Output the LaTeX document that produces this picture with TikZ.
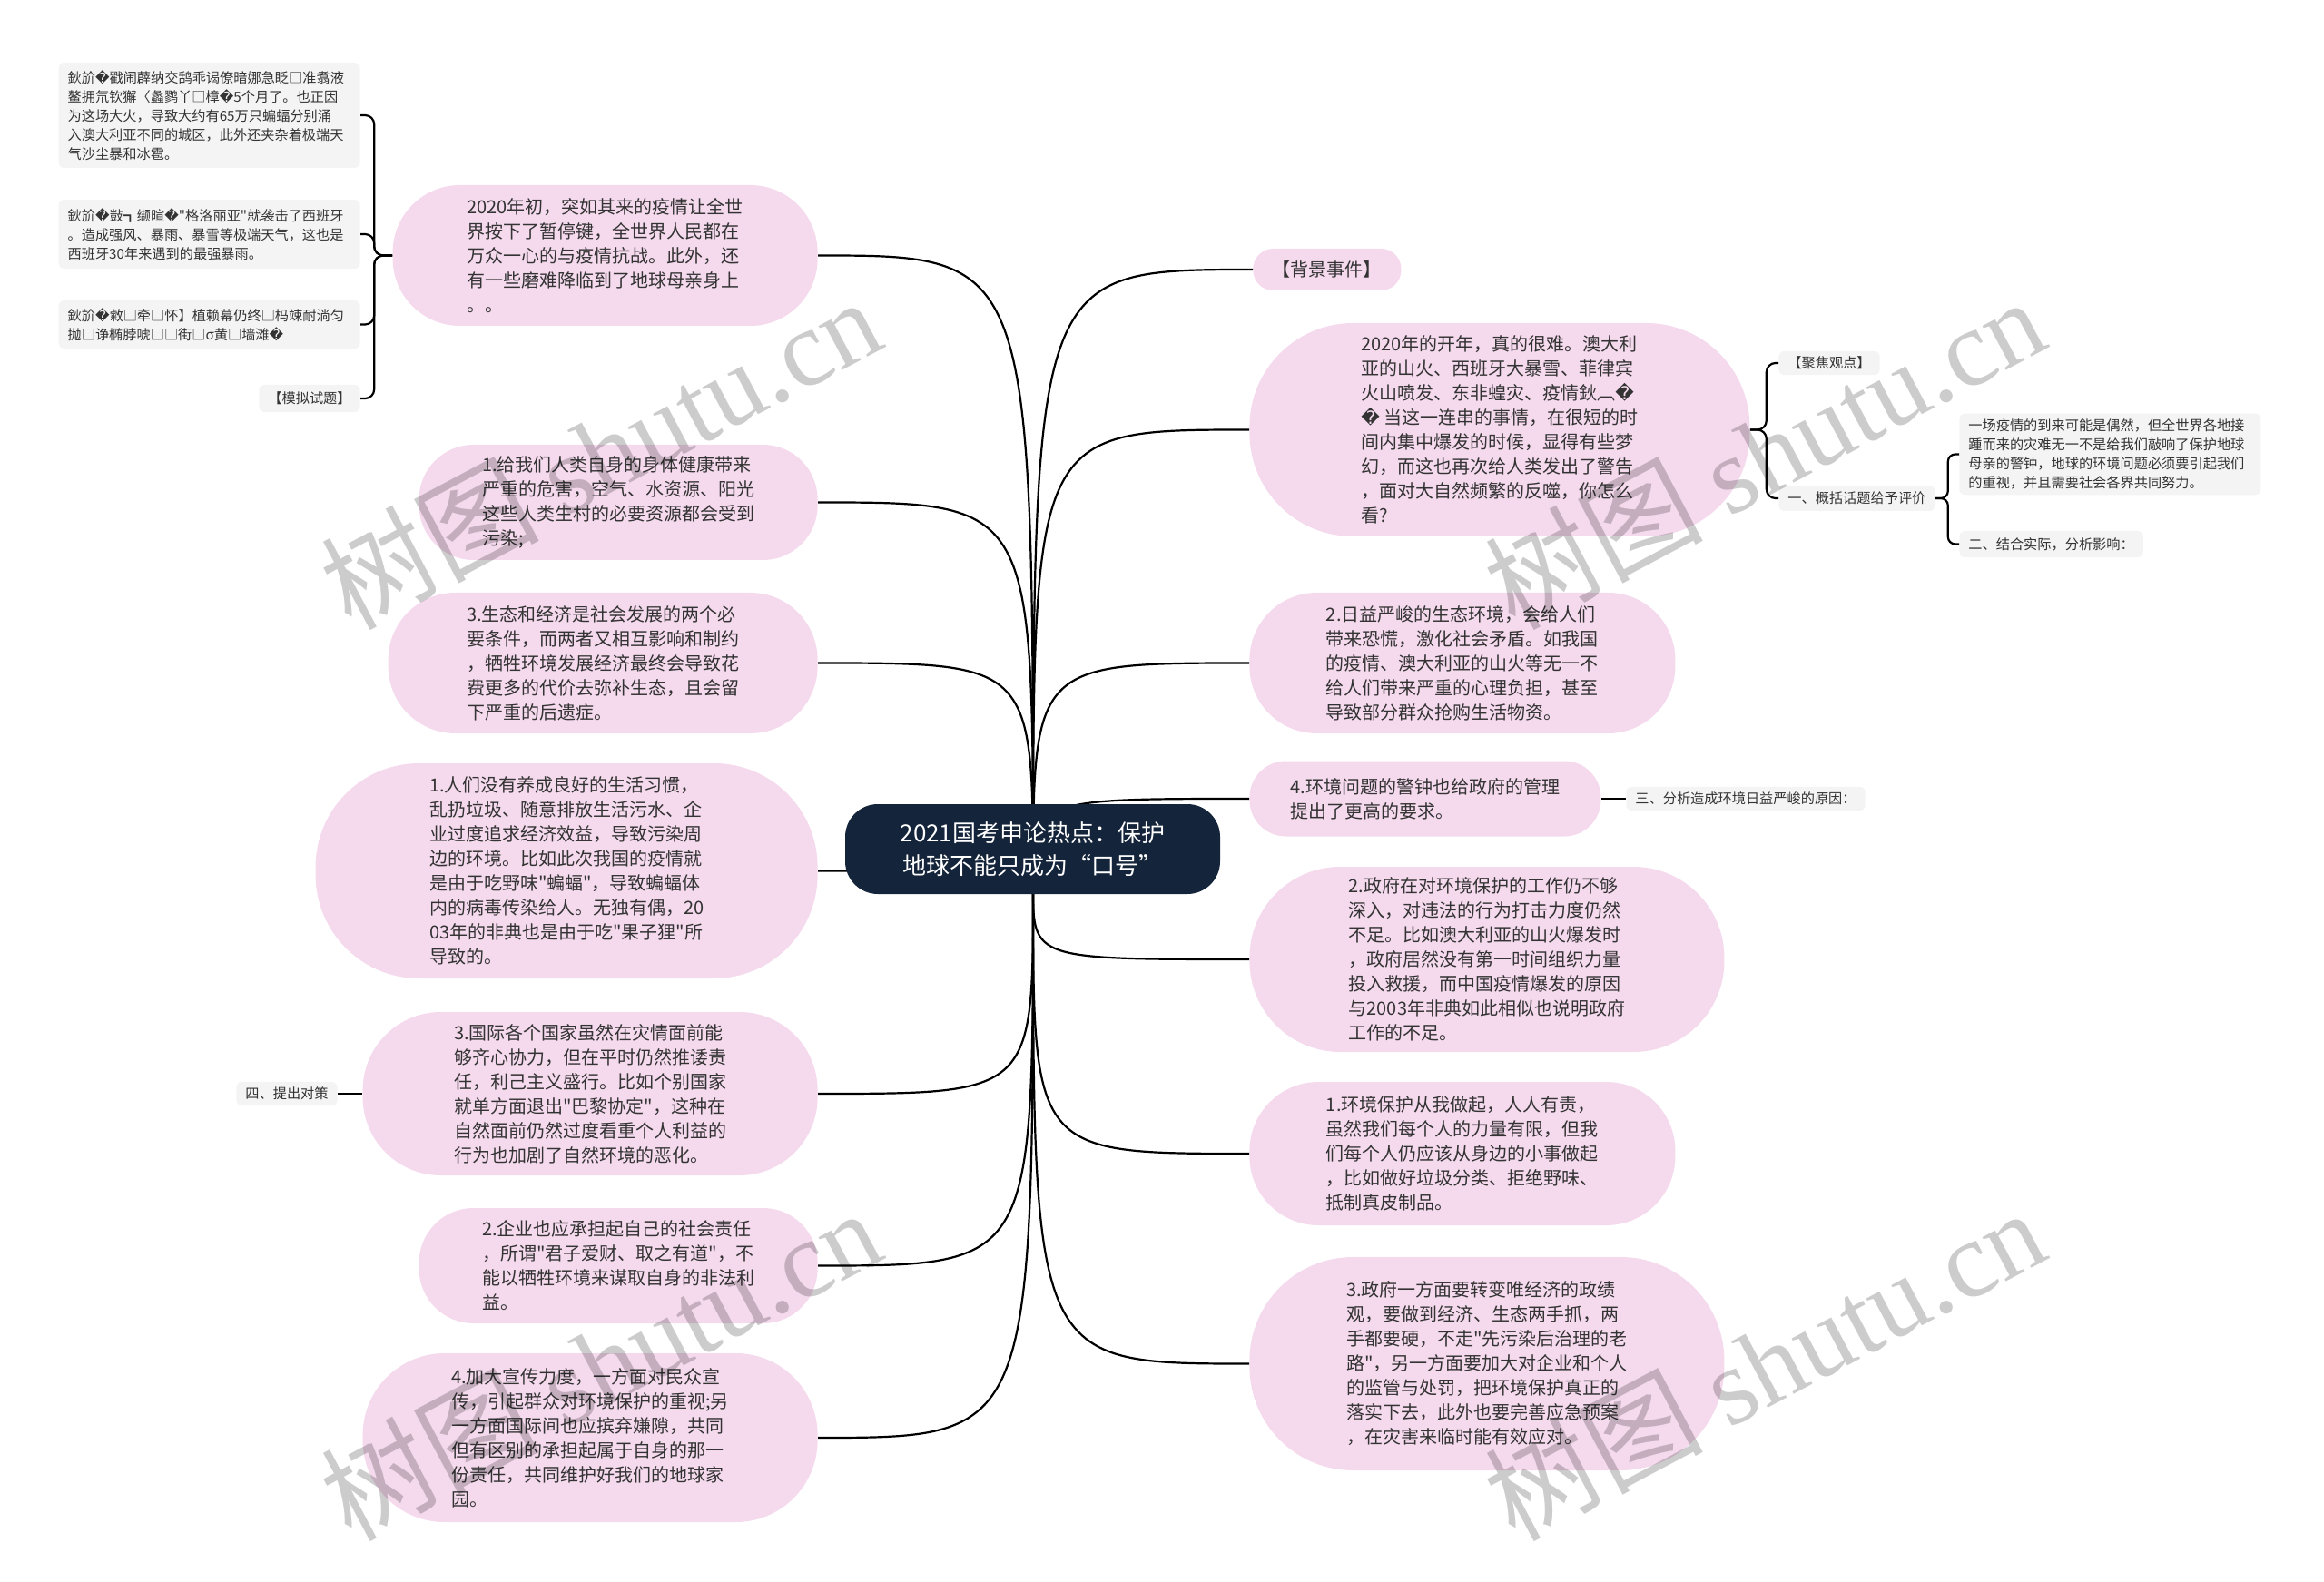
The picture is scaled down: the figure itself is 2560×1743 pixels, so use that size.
\documentclass[tikz,border=0pt]{standalone}
\usepackage{fontspec}
\setmainfont{Noto Sans CJK SC}
\newfontfamily\replfont{DejaVu Sans}
\newfontfamily\wmfont{Liberation Serif}
\font\quotefont="Noto Sans CJK SC" at 10pt
\font\smallquotefont="Noto Sans CJK SC" at 7.6pt
\newcommand{\bad}{{\replfont\char"FFFD}}
\newcommand{\dq}{{\quotefont"}}
\newcommand{\sdq}{{\smallquotefont"}}
\definecolor{pinkfill}{HTML}{F5DAEE}
\definecolor{greyfill}{HTML}{F4F4F4}
\definecolor{topicfill}{HTML}{14243A}
\definecolor{textgray}{HTML}{333333}
\begin{document}
\begin{tikzpicture}[
            x=0.5pt,
            y=-0.5pt,
            link/.style={line width=1.1pt, black},
            pinkbox/.style={fill=pinkfill, text=textgray, rounded corners=#1, align=left, inner sep=3pt, font=\fontsize{10}{13.5}\selectfont},
            greybox/.style={fill=greyfill, text=textgray, rounded corners=3pt, align=left, inner xsep=5pt, inner ysep=3pt, font=\fontsize{7.6}{10.5}\selectfont},
            topic/.style={fill=topicfill, text=white, rounded corners=18pt, align=center, minimum width=206.5pt, minimum height=49.5pt, font=\fontsize{13}{18}\selectfont},
            stamp/.style={text=black, opacity=0.2, rotate=28, font=\fontsize{60}{60}\selectfont}
        ]
        \useasboundingbox (0,0) rectangle (2560,1743);
        \coordinate (hub) at (1138,978);

        \node[pinkbox=37pt, minimum width=234pt, minimum height=77.5pt, anchor=east] (L1) at (901,281.5) {2020年初，突如其来的疫情让全世\\界按下了暂停键，全世界人民都在\\万众一心的与疫情抗战。此外，还\\有一些磨难降临到了地球母亲身上\\。。};
        \node[pinkbox=30pt, minimum width=219.5pt, minimum height=63.5pt, anchor=east] (L2) at (901,553.5) {1.给我们人类自身的身体健康带来\\严重的危害，空气、水资源、阳光\\这些人类生村的必要资源都会受到\\污染;};
        \node[pinkbox=37pt, minimum width=236.5pt, minimum height=77.5pt, anchor=east] (L3) at (901,730.5) {3.生态和经济是社会发展的两个必\\要条件，而两者又相互影响和制约\\，牺牲环境发展经济最终会导致花\\费更多的代价去弥补生态，且会留\\下严重的后遗症。};
        \node[pinkbox=57pt, minimum width=276.5pt, minimum height=118.5pt, anchor=east] (L4) at (901,959.5) {1.人们没有养成良好的生活习惯，\\乱扔垃圾、随意排放生活污水、企\\业过度追求经济效益，导致污染周\\边的环境。比如此次我国的疫情就\\是由于吃野味\dq 蝙蝠\dq ，导致蝙蝠体\\内的病毒传染给人。无独有偶，20\\03年的非典也是由于吃\dq 果子狸\dq 所\\导致的。};
        \node[pinkbox=43pt, minimum width=250.5pt, minimum height=90pt, anchor=east] (L5) at (901,1205) {3.国际各个国家虽然在灾情面前能\\够齐心协力，但在平时仍然推诿责\\任，利己主义盛行。比如个别国家\\就单方面退出\dq 巴黎协定\dq ，这种在\\自然面前仍然过度看重个人利益的\\行为也加剧了自然环境的恶化。};
        \node[pinkbox=30pt, minimum width=219.5pt, minimum height=63.5pt, anchor=east] (L6) at (901,1394.5) {2.企业也应承担起自己的社会责任\\，所谓\dq 君子爱财、取之有道\dq ，不\\能以牺牲环境来谋取自身的非法利\\益。};
        \node[pinkbox=45pt, minimum width=250.5pt, minimum height=93pt, anchor=east] (L7) at (901,1584) {4.加大宣传力度，一方面对民众宣\\传，引起群众对环境保护的重视;另\\一方面国际间也应摈弃嫌隙，共同\\但有区别的承担起属于自身的那一\\份责任，共同维护好我们的地球家\\园。};

        \node[pinkbox=11pt, minimum width=81.5pt, minimum height=23pt, anchor=west] (R0) at (1380,297) {【背景事件】};
        \node[pinkbox=57pt, minimum width=275.5pt, minimum height=117.5pt, anchor=west] (R1) at (1376,473.5) {2020年的开年，真的很难。澳大利\\亚的山火、西班牙大暴雪、菲律宾\\火山喷发、东非蝗灾、疫情鈥︹\bad\\\bad{} 当这一连串的事情，在很短的时\\间内集中爆发的时候，显得有些梦\\幻，而这也再次给人类发出了警告\\，面对大自然频繁的反噬，你怎么\\看?};
        \node[pinkbox=37pt, minimum width=234.5pt, minimum height=77.5pt, anchor=west] (R2) at (1376,730.5) {2.日益严峻的生态环境，会给人们\\带来恐慌，激化社会矛盾。如我国\\的疫情、澳大利亚的山火等无一不\\给人们带来严重的心理负担，甚至\\导致部分群众抢购生活物资。};
        \node[pinkbox=20pt, minimum width=193.5pt, minimum height=41.5pt, anchor=west] (R3) at (1376,880) {4.环境问题的警钟也给政府的管理\\提出了更高的要求。};
        \node[pinkbox=50pt, minimum width=261.5pt, minimum height=102pt, anchor=west] (R4) at (1376,1057) {2.政府在对环境保护的工作仍不够\\深入，对违法的行为打击力度仍然\\不足。比如澳大利亚的山火爆发时\\，政府居然没有第一时间组织力量\\投入救援，而中国疫情爆发的原因\\与2003年非典如此相似也说明政府\\工作的不足。};
        \node[pinkbox=38pt, minimum width=234.5pt, minimum height=79pt, anchor=west] (R5) at (1376,1271) {1.环境保护从我做起，人人有责，\\虽然我们每个人的力量有限，但我\\们每个人仍应该从身边的小事做起\\，比如做好垃圾分类、拒绝野味、\\抵制真皮制品。};
        \node[pinkbox=57pt, minimum width=261.5pt, minimum height=117.5pt, anchor=west] (R6) at (1376,1502.5) {3.政府一方面要转变唯经济的政绩\\观，要做到经济、生态两手抓，两\\手都要硬，不走\dq 先污染后治理的老\\路\dq ，另一方面要加大对企业和个人\\的监管与处罚，把环境保护真正的\\落实下去，此外也要完善应急预案\\，在灾害来临时能有效应对。};

        \node[greybox, text width=156pt, minimum height=58pt, anchor=east] (G1) at (397,127) {鈥斺\bad 戳闹薜纳交鸹乖谒僚暗娜急眨□准翥液\\鳌拥氘钦獬〈蠡鹨丫□樟\bad 5个月了。也正因\\为这场大火，导致大约有65万只蝙蝠分别涌\\入澳大利亚不同的城区，此外还夹杂着极端天\\气沙尘暴和冰雹。};
        \node[greybox, text width=156pt, minimum height=38pt, anchor=east] (G2) at (397,258) {鈥斺\bad 敱┓缬暄\bad \sdq 格洛丽亚\sdq 就袭击了西班牙\\。造成强风、暴雨、暴雪等极端天气，这也是\\西班牙30年来遇到的最强暴雨。};
        \node[greybox, text width=156pt, minimum height=26.5pt, anchor=east] (G3) at (397,357.5) {鈥斺\bad 敹□牵□怀】植赖幕仍终□杩竦耐淌匀\\抛□诤椭脖唬□□街□σ黄□墙滩\bad};
        \node[greybox, minimum height=15pt, anchor=east] (G4) at (397,439) {【模拟试题】};
        \node[greybox, minimum height=13pt, anchor=east] (G5) at (372,1205) {四、提出对策};

        \node[greybox, minimum height=13pt, anchor=west] (F1) at (1959,400) {【聚焦观点】};
        \node[greybox, minimum height=14pt, anchor=west] (F2) at (1959,549) {一、概括话题给予评价};
        \node[greybox, text width=156pt, minimum height=43.5pt, anchor=west] (F3) at (2158,500.5) {一场疫情的到来可能是偶然，但全世界各地接\\踵而来的灾难无一不是给我们敲响了保护地球\\母亲的警钟，地球的环境问题必须要引起我们\\的重视，并且需要社会各界共同努力。};
        \node[greybox, minimum height=14.5pt, anchor=west] (F4) at (2158,599.5) {二、结合实际，分析影响：};
        \node[greybox, minimum height=13pt, anchor=west] (F5) at (1791,880) {三、分析造成环境日益严峻的原因：};

        \foreach \n in {L1,L2,L3,L4,L5,L6,L7}
            \draw[link] (hub) .. controls (hub |- \n.east) .. (\n.east);
        \foreach \n in {R0,R1,R2,R3,R4,R5,R6}
            \draw[link] (hub) .. controls (hub |- \n.west) .. (\n.west);
        \foreach \n in {G1,G2,G3,G4}
            \draw[link, rounded corners=5pt] (L1.west) -- ++(-20,0) |- (\n.east);
        \foreach \n in {F1,F2}
            \draw[link, rounded corners=5pt] (R1.east) -- ++(18,0) |- (\n.west);
        \foreach \n in {F3,F4}
            \draw[link, rounded corners=4pt] (F2.east) -- ++(14,0) |- (\n.west);
        \draw[link] (L5.west) -- (G5.east);
        \draw[link] (R3.east) -- (F5.west);

        \node[topic] (T) at (1137.5,935.5) {2021国考申论热点：保护\\地球不能只成为“口号”};

        \node[stamp] (W1) at (661,498) {树图 {\wmfont shutu.cn}};
        \node[stamp] (W2) at (661,1502) {树图 {\wmfont shutu.cn}};
        \node[stamp] (W3) at (1943,498) {树图 {\wmfont shutu.cn}};
        \node[stamp] (W4) at (1943,1502) {树图 {\wmfont shutu.cn}};
    \end{tikzpicture}
\end{document}
